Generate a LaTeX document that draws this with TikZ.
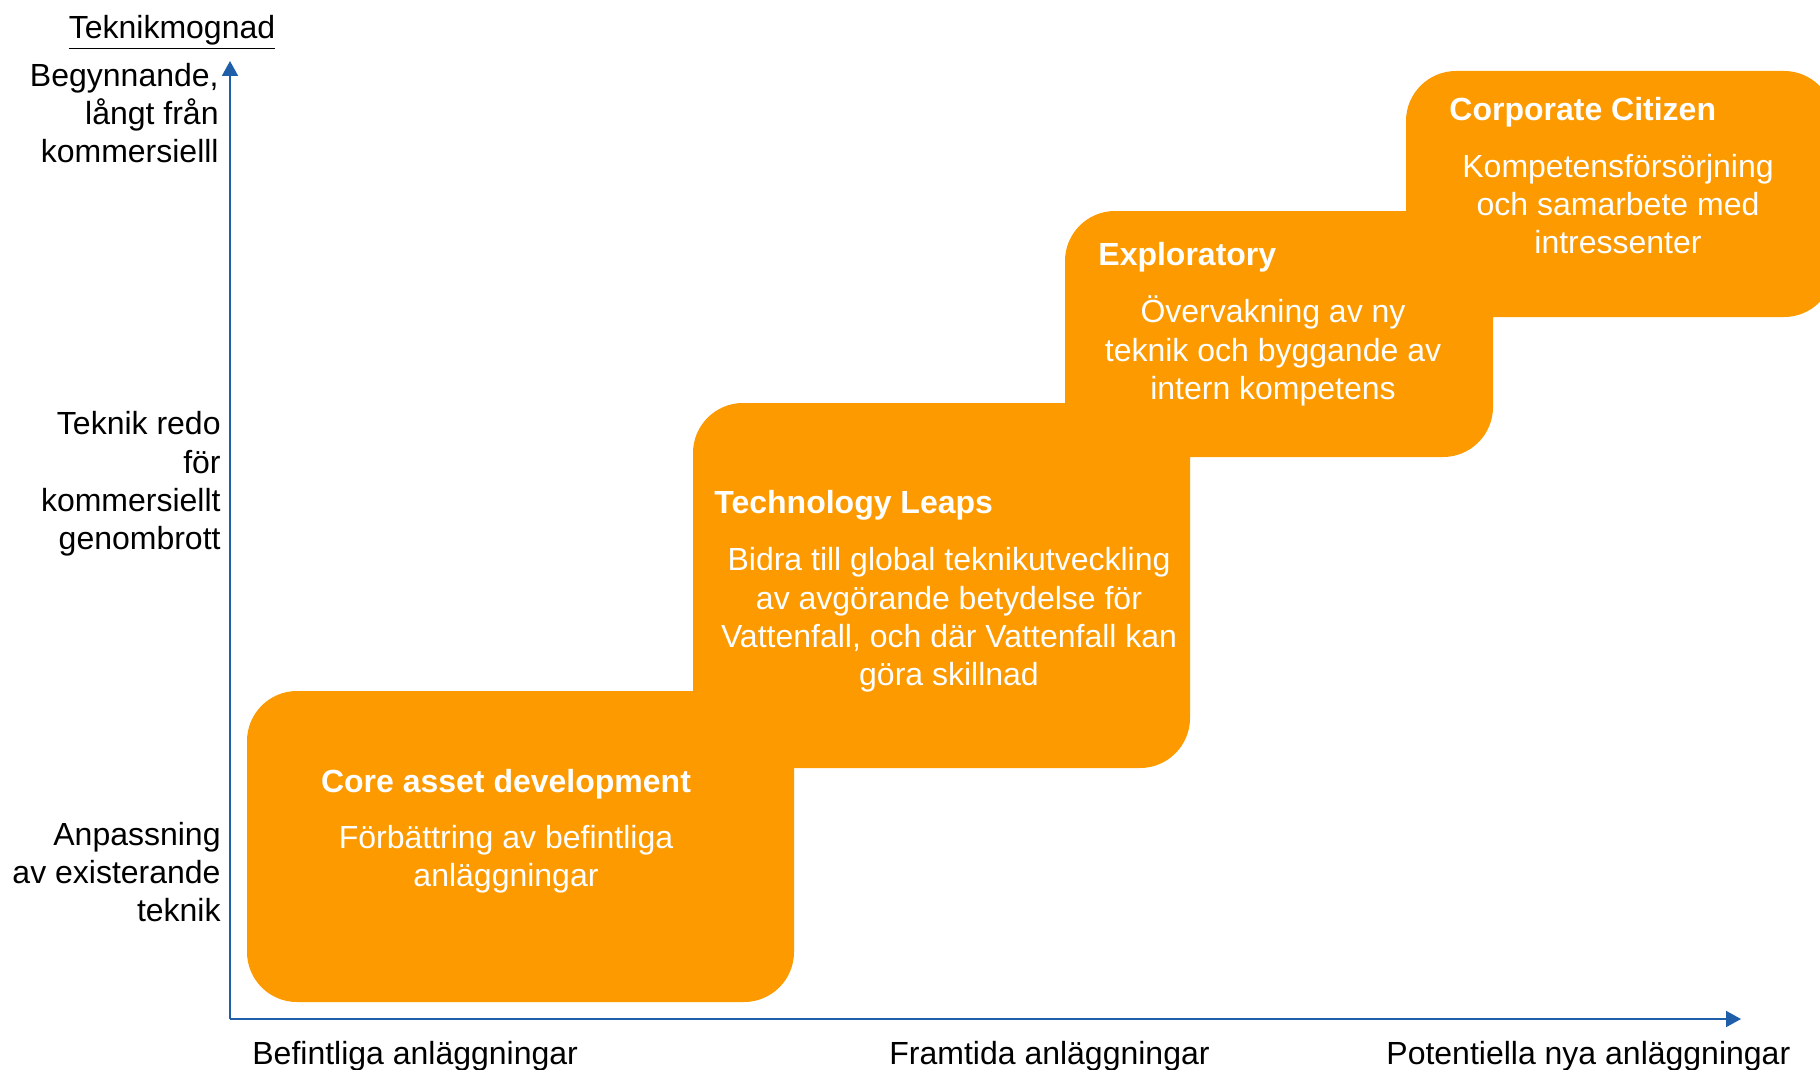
\documentclass[tikz,border=0pt]{standalone}
\usepackage{fontspec}
\setmainfont{Liberation Sans}
\usetikzlibrary{arrows.meta}

\definecolor{stairorange}{HTML}{FC9A00}
\definecolor{axisblue}{HTML}{1F5FAA}

\tikzset{
  stair/.style={fill=stairorange, rounded corners=25pt},
  stairtitle/.style={text=white, font=\fontsize{16}{19.2}\selectfont\bfseries, inner sep=0pt},
  stairtext/.style={text=white, align=center, inner sep=0pt},
  levellabel/.style={align=right, anchor=east, inner sep=0pt},
  sitelabel/.style={anchor=west, inner sep=0pt},
  axis/.style={draw=axisblue, line width=1pt, -{Triangle[width=8pt,length=7.5pt]}, axisblue}
}

\begin{document}
\begin{tikzpicture}[x=0.5pt,y=-0.5pt,font=\fontsize{16}{19.2}\selectfont]
\useasboundingbox (0,0) rectangle (1820,1070);
\coordinate (origin) at (230,1019);
\coordinate (ytip) at (230,61);
\coordinate (xtip) at (1741,1019);
% Steps, lowest first so each one lies over the one before
\fill[stair] (247,691) rectangle (794,1002);
\node[stairtitle] (core-title) at (506,784) {Core asset development};
\node[stairtext] (core-text) at (506,859) {Förbättring av befintliga\\anläggningar};
\fill[stair] (693,403) rectangle (1190,768);
\node[stairtitle, anchor=west] (leaps-title) at (714,505) {Technology Leaps};
\node[stairtext] (leaps-text) at (949,620) {Bidra till global teknikutveckling\\av avgörande betydelse för\\Vattenfall, och där Vattenfall kan\\göra skillnad};
\fill[stair] (1065,211) rectangle (1493,457);
\node[stairtitle, anchor=west] (explore-title) at (1098,257) {Exploratory};
\node[stairtext] (explore-text) at (1273,351) {Övervakning av ny\\teknik och byggande av\\intern kompetens};
\fill[stair] (1406,71) rectangle (1834,317);
\node[stairtitle, anchor=west] (citizen-title) at (1449,112) {Corporate Citizen};
\node[stairtext] (citizen-text) at (1618,204) {Kompetensförsörjning\\och samarbete med\\intressenter};
% Draw y-axis with its levels
\draw[axis] (origin) -- (ytip);
\node[anchor=base] (maturity) at (172,39) {\underline{Teknikmognad}};
\node[levellabel] (level-high) at (219,113) {Begynnande,\\långt från\\kommersielll};
\node[levellabel] (level-mid) at (221,484) {Teknik redo\\för\\kommersiellt\\genombrott};
\node[levellabel] (level-low) at (221,872) {Anpassning\\av existerande\\teknik};
% Draw x-axis with its sites
\draw[axis] (origin) -- (xtip);
\node[sitelabel] (site-old) at (252,1056) {Befintliga anläggningar};
\node[sitelabel] (site-future) at (889,1056) {Framtida anläggningar};
\node[sitelabel] (site-new) at (1386,1056) {Potentiella nya anläggningar};
\end{tikzpicture}
\end{document}
